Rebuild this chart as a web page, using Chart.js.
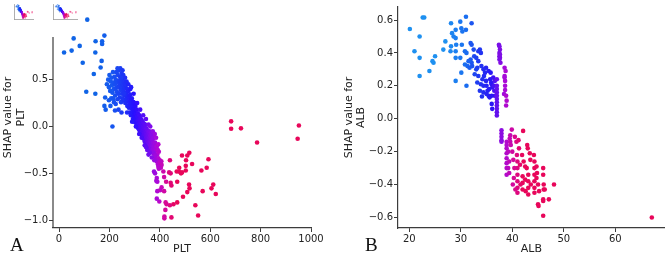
<!DOCTYPE html>
<html>
<head>
<meta charset="utf-8">
<script src="https://cdn.jsdelivr.net/npm/chart.js@4"></script>
<style>
  html, body { margin: 0; padding: 0; background: #fff; }
  #wrap { position: relative; width: 667px; height: 257px; overflow: hidden; }
  canvas { position: absolute; }
  .panel { position: absolute; font-family: "Liberation Serif", "DejaVu Serif", serif; font-size: 19px; color: #111; }
</style>
</head>
<body>
<div id="wrap">
  <canvas id="chartA" width="330" height="257" style="left:0;top:0"></canvas>
  <canvas id="chartB" width="330" height="257" style="left:337px;top:0"></canvas>
  <canvas id="thumb1" width="37" height="30" style="left:0;top:0"></canvas>
  <canvas id="thumb2" width="40" height="30" style="left:41px;top:0"></canvas>
  <div class="panel" style="left:10px;top:234px">A</div>
  <div class="panel" style="left:365px;top:234px">B</div>
</div>
<script>
// SHAP dependence values: [feature value, SHAP value]
const pltShap = [
  [20,0.79],[50,0.81],[58,0.94],[82,0.86],[94,0.68],[108,0.37],[112,1.14],[138,0.56],[144,0.79],[144,0.35],
  [145,0.91],[165,0.63],[169,0.70],[171,0.91],[171,0.88],[180,0.97],[183,0.31],[180,0.22],[185,0.18],[212,0.0],[222,0.17],
  [190,0.45],[195,0.50],[198,0.42],[200,0.55],[203,0.38],[205,0.48],[207,0.30],[208,0.52],[210,0.44],[212,0.36],
  [214,0.58],[215,0.47],[217,0.40],[218,0.26],[220,0.53],[222,0.45],[223,0.33],[225,0.50],[226,0.41],[228,0.58],
  [229,0.37],[230,0.47],[232,0.29],[233,0.55],[234,0.42],[235,0.60],[236,0.35],[238,0.49],[240,0.44],[241,0.31],
  [242,0.53],[243,0.62],[244,0.39],[245,0.47],[246,0.26],[248,0.57],[249,0.42],[250,0.35],[251,0.50],[252,0.30],
  [253,0.45],[255,0.55],[256,0.38],[257,0.28],[258,0.48],[260,0.41],[261,0.33],[262,0.52],[263,0.25],[265,0.44],
  [266,0.36],[268,0.30],[270,0.40],[271,0.22],[272,0.33],[274,0.27],[275,0.38],[277,0.20],[278,0.31],[279,0.25],
  [280,0.15],[282,0.34],[283,0.22],[284,0.28],[285,0.12],[287,0.25],[288,0.19],[289,0.30],[290,0.14],[292,0.22],
  [293,0.08],[294,0.17],[295,0.26],[297,0.12],[298,0.20],[299,0.05],[300,0.15],[302,0.10],[303,0.22],[304,0.04],
  [305,0.13],[307,0.08],[308,0.18],[309,0.01],[310,0.11],[312,0.06],[313,0.14],[314,-0.02],[315,0.08],[317,0.03],
  [318,0.12],[319,-0.04],[320,0.06],[322,0.00],[323,0.09],[324,-0.06],[325,0.04],[327,-0.02],[328,0.07],[329,-0.09],
  [330,0.02],[331,-0.05],[332,0.05],[333,-0.10],[334,0.0],[335,-0.03],[336,-0.13],[337,0.03],[338,-0.07],[339,-0.01],
  [340,-0.16],[341,-0.04],[342,0.02],[343,-0.10],[344,-0.06],[345,-0.19],[346,-0.02],[347,-0.12],[348,-0.08],[349,-0.15],
  [350,-0.04],[351,-0.22],[352,-0.10],[353,-0.06],[354,-0.14],[355,-0.18],[356,-0.08],[357,-0.12],[358,-0.25],[359,-0.05],
  [360,-0.16],[361,-0.10],[362,-0.20],[363,-0.13],[364,-0.07],[365,-0.23],[366,-0.17],[367,-0.11],[368,-0.27],[369,-0.14],
  [370,-0.20],[371,-0.09],[372,-0.24],[373,-0.17],[374,-0.13],[375,-0.29],[376,-0.21],[378,-0.24],[378,-0.29],[380,-0.18],
  [382,-0.33],[384,-0.26],[386,-0.22],[388,-0.37],[390,-0.30],[392,-0.40],[394,-0.34],[396,-0.27],[398,-0.42],[400,-0.36],
  [402,-0.39],[404,-0.44],[406,-0.37],[368,-0.09],[374,-0.12],[381,-0.17],[388,-0.21],[394,-0.19],[374,-0.28],[381,-0.31],
  [388,-0.36],[401,-0.38],[407,-0.41],[394,-0.43],[381,-0.50],[388,-0.55],[390,-0.59],
  [215,0.30],[225,0.24],[232,0.62],[247,0.52],[252,0.60],[258,0.35],[262,0.45],[270,0.15],[275,0.45],[283,0.40],
  [290,0.05],[296,0.35],[300,0.25],[305,0.0],[310,0.25],[318,-0.08],[322,0.18],[328,-0.12],[334,0.12],[340,-0.20],
  [345,0.08],[350,-0.25],[355,0.02],[360,-0.28],[362,0.0],[368,-0.33],[372,-0.05],[378,-0.36],[385,-0.12],[392,-0.25],
  [396,-0.45],[355,-0.30],[345,-0.22],[380,-0.08],[198,0.28],[204,0.22],[236,0.18],[248,0.15],[268,0.48],[286,0.42],
  [593,-0.35],[586,-0.44],[517,-0.28],[509,-0.31],[488,-0.31],[528,-0.40],[565,-0.47],[503,-0.42],[484,-0.50],[476,-0.48],
  [469,-0.59],[440,-0.36],[437,-0.49],[443,-0.60],[516,-0.62],[518,-0.66],[509,-0.70],[570,-0.69],[612,-0.62],[605,-0.66],
  [622,-0.72],[492,-0.75],[541,-0.84],[552,-0.95],[469,-0.81],[454,-0.83],[440,-0.84],[423,-0.81],[422,-0.89],[418,-0.96],
  [418,-0.98],[446,-0.97],[398,-0.80],[390,-0.69],[386,-0.58],[377,-0.48],[414,-0.48],[407,-0.65],[504,-0.36],[477,-0.44],
  [503,-0.47],[488,-0.49],[417,-0.54],[425,-0.59],[446,-0.63],[401,-0.68],[388,-0.77],[467,-0.48],[443,-0.50],[417,-0.69],
  [427,-0.83],
  [683,0.055],[683,-0.024],[722,-0.02],[786,-0.17],[952,0.01],[947,-0.13]
];

const albShap = [
  [20.1,0.545],[21.0,0.41],[22.0,0.50],[22.0,0.37],[22.0,0.26],[22.6,0.615],[22.9,0.615],[23.9,0.29],[24.5,0.35],[24.7,0.34],
  [25.0,0.38],[26.6,0.42],[27.0,0.47],[28.1,0.58],[28.3,0.52],[28.6,0.50],[29.0,0.54],[28.0,0.41],[28.1,0.44],[29.0,0.49],
  [29.1,0.45],[29.0,0.41],[29.0,0.37],[29.0,0.23],[29.9,0.59],[30.1,0.55],[30.3,0.53],[30.2,0.45],[29.9,0.37],[30.1,0.28],
  [31.0,0.62],[31.0,0.54],[31.1,0.20],[32.1,0.58],[31.9,0.46],[32.1,0.45],[30.8,0.41],[31.1,0.40],[30.8,0.33],[31.3,0.32],
  [31.7,0.31],[31.9,0.36],[32.1,0.34],[32.5,0.42],[32.6,0.38],[33.0,0.37],[33.4,0.41],[33.7,0.42],[33.9,0.40],[33.4,0.35],
  [33.2,0.31],[32.7,0.27],[33.4,0.26],[33.2,0.22],[33.9,0.21],[34.4,0.20],[33.7,0.17],[34.1,0.135],[34.4,0.16],[34.7,0.28],
  [34.9,0.23],[35.0,0.20],[35.2,0.17],[35.4,0.14],[35.6,0.13],[35.7,0.24],[35.9,0.22],[36.1,0.19],[36.3,0.25],[36.5,0.17],
  [36.6,0.14],[34.9,0.31],[35.4,0.29],[34.4,0.30],[36.0,0.09],[36.1,0.06],[34.0,0.32],[34.5,0.26],[35.0,0.15],[35.5,0.18],
  [36.0,0.21],[36.0,0.14],[35.8,0.28],[36.4,0.20],[36.6,0.23],[34.2,0.24],[33.0,0.30],[32.2,0.32],[31.5,0.35],
  [37.0,0.24],[37.0,0.20],[37.0,0.16],[37.0,0.12],[37.0,0.08],[37.0,0.04],[37.0,0.02],[37.0,0.10],[37.0,0.14],[37.0,0.18],[37.0,0.06],
  [37.4,0.45],[37.5,0.44],[37.6,0.42],[37.5,0.40],[37.5,0.38],[37.6,0.37],[37.7,0.34],[37.5,0.36],[37.6,0.39],
  [38.5,0.31],[38.5,0.26],[38.5,0.25],[38.6,0.20],[38.6,0.175],[38.4,0.15],[38.8,0.14],[38.9,0.11],[38.8,0.08],[38.6,0.23],[38.7,0.29],
  [37.9,-0.07],[37.9,-0.09],[37.9,-0.11],[37.9,-0.13],[37.9,-0.14],
  [39.9,-0.066],[39.6,-0.10],[38.9,-0.14],[38.9,-0.16],[38.9,-0.18],[38.9,-0.21],[38.9,-0.24],[38.9,-0.27],[38.9,-0.30],[38.9,-0.34],
  [39.2,-0.20],[39.4,-0.26],[39.5,-0.12],[39.6,-0.14],[39.7,-0.16],[40.5,-0.11],[40.8,-0.14],[42.1,-0.074],[41.2,-0.13],[41.3,-0.18],
  [40.9,-0.22],[41.0,-0.26],[41.0,-0.30],[41.0,-0.34],[41.0,-0.38],[41.0,-0.42],[41.0,-0.45],[41.9,-0.22],[42.2,-0.26],[42.5,-0.29],
  [42.8,-0.30],[43.1,-0.34],[42.9,-0.16],[43.0,-0.18],[43.4,-0.21],[44.2,-0.22],[44.3,-0.26],[44.3,-0.30],[44.3,-0.34],[44.3,-0.38],
  [44.3,-0.42],[44.3,-0.45],[43.1,-0.38],[43.1,-0.42],[43.1,-0.46],[42.0,-0.35],[42.0,-0.39],[42.0,-0.43],[44.7,-0.29],[44.8,-0.33],
  [44.7,-0.36],[46.0,-0.30],[46.0,-0.34],[46.1,-0.40],[46.1,-0.43],[46.0,-0.49],[46.0,-0.50],[45.0,-0.52],[45.1,-0.53],[46.0,-0.59],
  [47.1,-0.49],[48.1,-0.40],[46.3,-0.43],[40.0,-0.20],[40.2,-0.25],[40.4,-0.30],[40.3,-0.36],[40.1,-0.40],[41.5,-0.28],[42.5,-0.37],
  [43.5,-0.25],[43.6,-0.40],[42.6,-0.44],[41.6,-0.40],[39.2,-0.30],[39.4,-0.33],[40.6,-0.43],[45.0,-0.40],[45.2,-0.44],
  [67.1,-0.60]
];

const pltTicksX = [0, 200, 400, 600, 800, 1000];
const pltTicksY = [-1.0, -0.5, 0.0, 0.5];
const albTicksX = [20, 30, 40, 50, 60];
const albTicksY = [-0.6, -0.4, -0.2, 0.0, 0.2, 0.4, 0.6];

// colour ramp (blue -> purple -> red) keyed on the feature value
const pltRamp = [[150,16,100,230],[210,22,88,240],[260,30,50,245],[300,40,16,255],[340,90,12,245],[370,140,12,232],[395,184,8,208],[425,216,8,150],[460,232,6,90]];
const albRamp = [[27,30,144,240],[31,26,110,240],[33,30,64,240],[36,42,20,245],[37.2,110,16,235],[38.6,170,10,215],[40.3,215,8,150],[42,232,6,90]];

function rampColor(ramp, v, alpha = 1) {
    let c = ramp[0].slice(1);
    if (v >= ramp[ramp.length - 1][0]) c = ramp[ramp.length - 1].slice(1);
    for (let i = 0; i < ramp.length - 1; i++) {
        const a = ramp[i], b = ramp[i + 1];
        if (v >= a[0] && v < b[0]) {
            const t = (v - a[0]) / (b[0] - a[0]);
            c = [1, 2, 3].map((k) => Math.round(a[k] + (b[k] - a[k]) * t));
        }
    }
    return `rgba(${c[0]},${c[1]},${c[2]},${alpha})`;
}

const fmt = (d) => (v) => v.toFixed(d).replace('-', '\u2212');
const tickFont = { family: 'DejaVu Sans', size: 10 };
const titleFont = { family: 'DejaVu Sans', size: 11, lineHeight: 1.15 };
const axisColor = '#3c3c3c';

// left spine of panel A starts a little below the top of the plot
const partialSpine = {
    id: 'partialSpine',
    afterDraw(chart, args, opts) {
        if (opts.from === undefined) return;
        const { ctx, chartArea, scales } = chart;
        ctx.save();
        ctx.strokeStyle = axisColor;
        ctx.lineWidth = 1.2;
        ctx.beginPath();
        ctx.moveTo(chartArea.left, scales.y.getPixelForValue(opts.from));
        ctx.lineTo(chartArea.left, chartArea.bottom);
        ctx.stroke();
        ctx.restore();
    },
};

function makeShapChart(id, points, ramp, o) {
    const ctx = document.getElementById(id).getContext('2d');
    return new Chart(ctx, {
        type: 'scatter',
        data: {
            datasets: [
                {
                    data: points.map((p) => ({ x: p[0], y: p[1] })),
                    backgroundColor: (c) => rampColor(ramp, c.raw ? c.raw.x : 0),
                    borderWidth: 0,
                    pointRadius: 2.3,
                    pointHoverRadius: 2.3,
                    clip: false,
                },
            ],
        },
        options: {
            responsive: false,
            animation: false,
            events: [],
            layout: { padding: o.padding },
            plugins: { legend: { display: false }, tooltip: { enabled: false }, partialSpine: { from: o.spineFrom } },
            scales: {
                x: {
                    type: 'linear',
                    min: o.xMin,
                    max: o.xMax,
                    afterBuildTicks: (s) => { s.ticks = o.xTicks.map((v) => ({ value: v })); },
                    afterFit: (s) => { s.height = 29; },
                    ticks: { font: tickFont, color: '#222', padding: 1, maxRotation: 0, autoSkip: false, callback: fmt(0) },
                    grid: { drawOnChartArea: false, tickLength: 4, color: axisColor },
                    border: { display: true, color: axisColor, width: 1.2 },
                    title: { display: true, text: o.xTitle, font: titleFont, color: '#222', padding: { top: 0, bottom: 2 } },
                },
                y: {
                    type: 'linear',
                    min: o.yMin,
                    max: o.yMax,
                    afterBuildTicks: (s) => { s.ticks = o.yTicks.map((v) => ({ value: v })); },
                    afterFit: (s) => { s.width = o.yWidth; },
                    ticks: { font: tickFont, color: '#222', padding: 1, autoSkip: false, callback: fmt(1) },
                    grid: { drawOnChartArea: false, tickLength: 4, color: axisColor },
                    border: { display: o.spineFrom === undefined, color: axisColor, width: 1.2 },
                    title: { display: true, text: ['SHAP value for', o.xTitle], font: titleFont, color: '#222', padding: { top: o.titlePad, bottom: 0 } },
                },
            },
        },
        plugins: [partialSpine],
    });
}

makeShapChart('chartA', pltShap, pltRamp, {
    xMin: -24, xMax: 1000, yMin: -1.083, yMax: 1.275,
    xTicks: pltTicksX, yTicks: pltTicksY, xTitle: 'PLT',
    yWidth: 53, titlePad: 2, spineFrom: 0.955,
    padding: { left: 0, right: 19, top: 0, bottom: 0 },
});

makeShapChart('chartB', albShap, albRamp, {
    xMin: 17.8, xMax: 69.6, yMin: -0.664, yMax: 0.679,
    xTicks: albTicksX, yTicks: albTicksY, xTitle: 'ALB',
    yWidth: 61, titlePad: 5.5,
    padding: { left: 0, right: 0, top: 3, bottom: 0 },
});

// faint thumbnails in the top-left corner
function makeThumb(id, left) {
    const ctx = document.getElementById(id).getContext('2d');
    return new Chart(ctx, {
        type: 'scatter',
        data: {
            datasets: [
                {
                    data: pltShap.map((p) => ({ x: p[0], y: p[1] })),
                    backgroundColor: (c) => rampColor(pltRamp, c.raw ? c.raw.x : 0, 0.45),
                    borderWidth: 0,
                    pointRadius: 0.8,
                },
            ],
        },
        options: {
            responsive: false,
            animation: false,
            events: [],
            layout: { padding: { left: left, right: 1, top: 1, bottom: 3 } },
            plugins: { legend: { display: false }, tooltip: { enabled: false } },
            scales: {
                x: { type: 'linear', min: -100, max: 1000, ticks: { display: false }, grid: { display: false }, border: { color: '#9a9a9a', width: 0.8 } },
                y: { type: 'linear', min: -1.1, max: 1.2, ticks: { display: false }, grid: { display: false }, border: { color: '#9a9a9a', width: 0.8 } },
            },
        },
    });
}
makeThumb('thumb1', 6);
makeThumb('thumb2', 4);
</script>
</body>
</html>
